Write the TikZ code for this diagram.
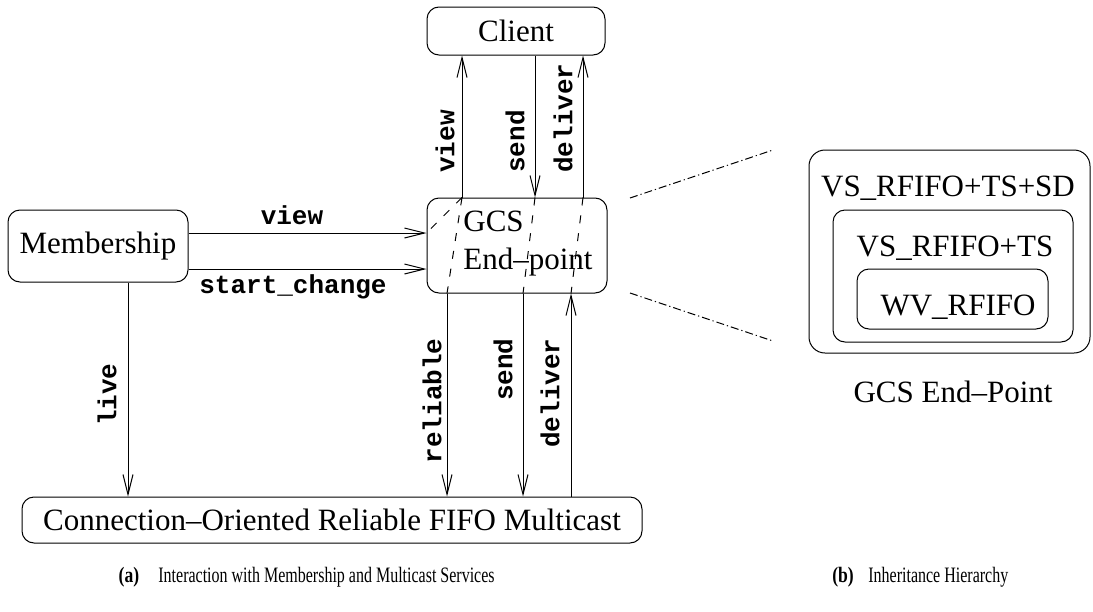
\documentclass[tikz,border=0pt]{standalone}
\usepackage{fontspec}
\setmainfont{Liberation Serif}
\setmonofont{Liberation Mono}
\usetikzlibrary{arrows.meta,calc}
\begin{document}
\begin{tikzpicture}[x=0.5pt,y=-0.5pt,
  box/.style={draw,rounded corners=6pt,line width=0.5pt,inner sep=0pt,font=\fontsize{15.5}{18}\selectfont},
  lbl/.style={font=\fontsize{13}{15}\selectfont\ttfamily\bfseries,inner sep=0pt},
  rl/.style={lbl,rotate=90},
  arr/.style={line width=0.5pt,-{Straight Barb[length=10pt,width=5pt]}},
  innerdash/.style={line width=0.5pt,dash pattern=on 4pt off 5pt},
  zoomline/.style={line width=0.5pt,dash pattern=on 4pt off 1.5pt on 0.6pt off 1.5pt},
  txt/.style={inner sep=0pt,font=\fontsize{15.5}{18}\selectfont},
  captxt/.style={inner sep=0pt,font=\fontsize{11}{13}\selectfont},
  capbold/.style={inner sep=0pt,font=\fontsize{11}{13}\selectfont\bfseries}
]
\useasboundingbox (0,0) rectangle (1093,611);

% boxes
\node[box,minimum width=89pt,minimum height=24pt] (client) at (516,31) {Client};
\node[box,minimum width=90pt,minimum height=47.5pt] (gcs) at (517,245.5) {};
\node[txt,align=left] (gcstext) at (528,244) {GCS\\[1pt]End–point};
\node[box,minimum width=90pt,minimum height=36pt] (memb) at (98,246) {Membership};
\node[box,minimum width=310pt,minimum height=23pt] (mcast) at (332,520) {Connection–Oriented Reliable FIFO Multicast};

% column / row coordinates
\coordinate (cView) at (462,0);
\coordinate (cSendT) at (535,0);
\coordinate (cDelT) at (583,0);
\coordinate (cRel) at (447,0);
\coordinate (cSendB) at (523,0);
\coordinate (cDelB) at (571,0);
\coordinate (cLive) at (128,0);
\coordinate (rView) at (0,233);
\coordinate (rStart) at (0,269);

% top arrows
\draw[arr] (gcs.north -| cView) -- (client.south -| cView);
\draw[arr] (client.south -| cSendT) -- (gcs.north -| cSendT);
\draw[arr] (gcs.north -| cDelT) -- (client.south -| cDelT);
\node[rl,anchor=west] (lview) at (445,173) {view};
\node[rl,anchor=west] (lsend) at (515,173) {send};
\node[rl,anchor=west] (ldel) at (563,173) {deliver};

% horizontal arrows
\draw[arr] (memb.east |- rView) -- (gcs.west |- rView);
\draw[arr] (memb.east |- rStart) -- (gcs.west |- rStart);
\node[lbl] (lhview) at (292,215) {view};
\node[lbl] (lstart) at (293,287) {start\_change};

% bottom arrows
\draw[arr] (gcs.south -| cRel) -- (mcast.north -| cRel);
\draw[arr] (gcs.south -| cSendB) -- (mcast.north -| cSendB);
\draw[arr] (mcast.north -| cDelB) -- (gcs.south -| cDelB);
\draw[arr] (memb.south -| cLive) -- (mcast.north -| cLive);
\node[rl,anchor=east] (lrel) at (432,338) {reliable};
\node[rl,anchor=east] (lsendb) at (503,338) {send};
\node[rl,anchor=east] (ldelb) at (550,338) {deliver};
\node[rl,anchor=east] (llive) at (107,363) {live};

% dashed paths inside GCS end-point
\draw[innerdash] (gcs.north -| cView) -- (gcs.west |- rView);
\draw[innerdash] (gcs.north -| cView) -- (gcs.south -| cRel);
\draw[innerdash] (gcs.north -| cSendT) -- (gcs.south -| cSendB);
\draw[innerdash] (gcs.north -| cDelT) -- (gcs.south -| cDelB);

% right part: inheritance hierarchy
\node[box,rounded corners=8pt,minimum width=140.5pt,minimum height=101.5pt] (outer) at (949.5,251.5) {};
\node[txt] (touter) at (948,188) {VS\_RFIFO+TS+SD};
\node[box,minimum width=120pt,minimum height=66pt] (mid) at (953,276) {};
\node[txt] (tmid) at (955,248) {VS\_RFIFO+TS};
\node[box,minimum width=95.5pt,minimum height=30pt] (inn) at (952.5,299) {};
\node[txt] (tinn) at (958,307) {WV\_RFIFO};
\node[txt] (tgcs) at (953,392) {GCS End–Point};

% zoom lines
\coordinate (z1a) at (630,198);
\coordinate (z1b) at (773,150);
\coordinate (z2a) at (630,293);
\coordinate (z2b) at (773,341);
\draw[zoomline] (z1a) -- (z1b);
\draw[zoomline] (z2a) -- (z2b);

% captions
\node[capbold] (capa) at (129,577) {\scalebox{0.8}[1]{(a)}};
\node[captxt,anchor=west] (capat) at (158,577) {\scalebox{0.727}[1]{Interaction with Membership and Multicast Services}};
\node[capbold] (capb) at (843,577) {\scalebox{0.8}[1]{(b)}};
\node[captxt,anchor=west] (capbt) at (868,577) {\scalebox{0.727}[1]{Inheritance Hierarchy}};
\end{tikzpicture}
\end{document}
